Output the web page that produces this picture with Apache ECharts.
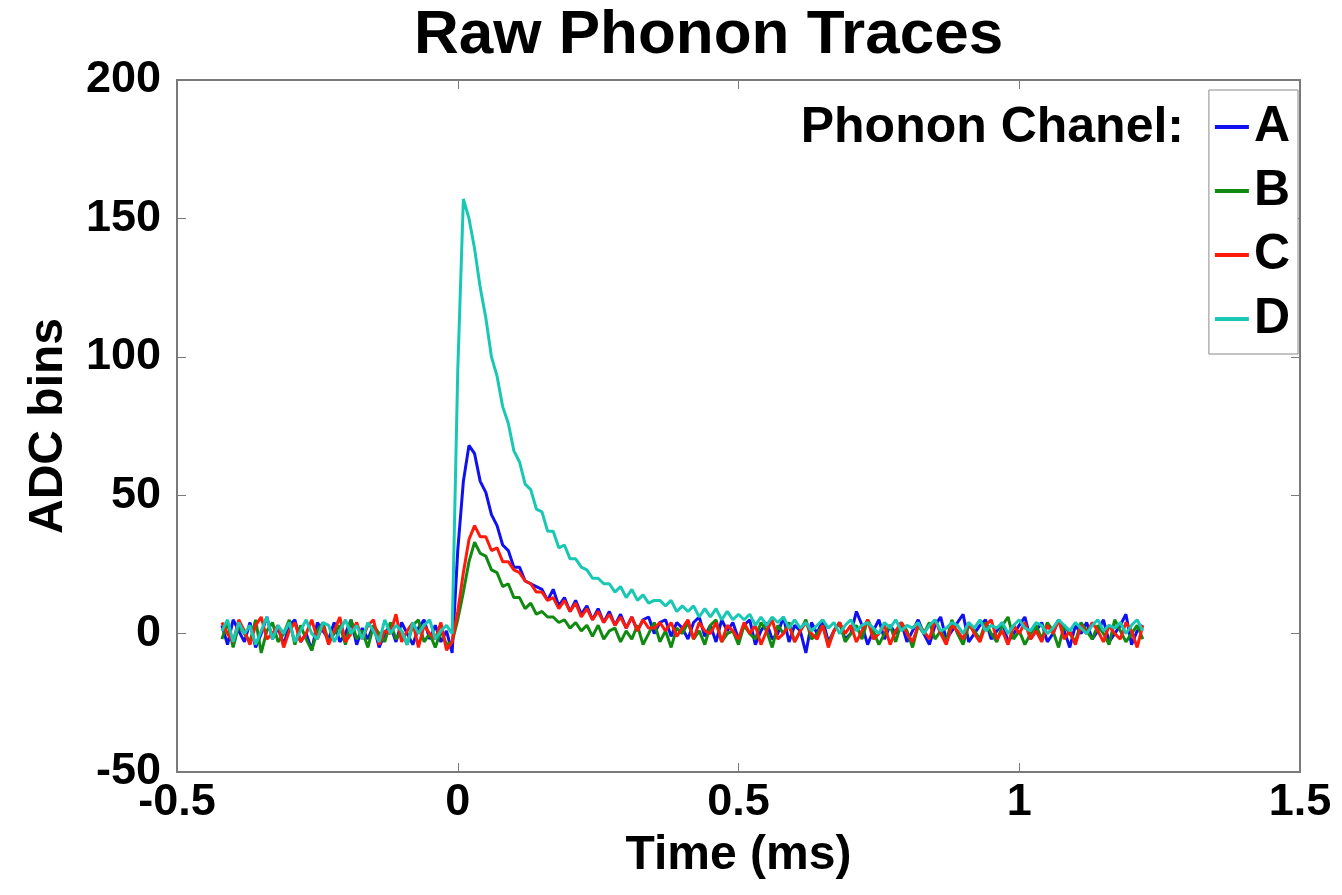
<!DOCTYPE html>
<html>
<head>
<meta charset="utf-8">
<title>Raw Phonon Traces</title>
<script src="https://cdn.jsdelivr.net/npm/echarts@6/dist/echarts.min.js"></script>
<style>
html,body{margin:0;padding:0;background:#fff;}
#phonon_traceID{width:1342px;height:895px;}
</style>
</head>
<body>
<div id="phonon_traceID"></div>
<script>
//原始声子波形 Raw phonon traces
var channelNames=["A", "B", "C", "D"];
var channelColors=["#1010f0", "#118a11", "#ff1a0a", "#18c8b4"];
var xTickValues=[-0.5, 0, 0.5, 1, 1.5];
var yTickValues=[-50, 0, 50, 100, 150, 200];

// sample times (ms)
var timeArray=[
	-0.42,-0.41,-0.40,-0.39,-0.38,-0.37,-0.36,-0.35,-0.34,-0.33,
	-0.32,-0.31,-0.30,-0.29,-0.28,-0.27,-0.26,-0.25,-0.24,-0.23,
	-0.22,-0.21,-0.20,-0.19,-0.18,-0.17,-0.16,-0.15,-0.14,-0.13,
	-0.12,-0.11,-0.10,-0.09,-0.08,-0.07,-0.06,-0.05,-0.04,-0.03,
	-0.02,-0.01,
	0.00,0.01,0.02,0.03,0.04,0.05,0.06,0.07,0.08,0.09,
	0.10,0.11,0.12,0.13,0.14,0.15,0.16,0.17,0.18,0.19,
	0.20,0.21,0.22,0.23,0.24,0.25,0.26,0.27,0.28,0.29,
	0.30,0.31,0.32,0.33,0.34,0.35,0.36,0.37,0.38,0.39,
	0.40,0.41,0.42,0.43,0.44,0.45,0.46,0.47,0.48,0.49,
	0.50,0.51,0.52,0.53,0.54,0.55,0.56,0.57,0.58,0.59,
	0.60,0.61,0.62,0.63,0.64,0.65,0.66,0.67,0.68,0.69,
	0.70,0.71,0.72,0.73,0.74,0.75,0.76,0.77,0.78,0.79,
	0.80,0.81,0.82,0.83,0.84,0.85,0.86,0.87,0.88,0.89,
	0.90,0.91,0.92,0.93,0.94,0.95,0.96,0.97,0.98,0.99,
	1.00,1.01,1.02,1.03,1.04,1.05,1.06,1.07,1.08,1.09,
	1.10,1.11,1.12,1.13,1.14,1.15,1.16,1.17,1.18,1.19,
	1.20,1.21,1.22
];

// ADC bins, channel A
var chanA=[
	3,-4,5,1,-3,4,-5,0,6,-2,
	2,-4,3,5,-3,0,-6,4,1,-2,
	4,-3,0,5,-4,2,-2,3,-5,0,
	3,-3,4,0,-4,2,5,-2,3,-3,
	1,-7,
	30,55,68,65,55,51,43,39,32,30,
	24,24,19,18,17,16,12,16,10,13,
	8,12,7,10,5,9,4,8,3,7,
	2,6,1,5,6,0,4,5,-1,4,
	2,-2,4,6,-1,3,-3,5,1,4,
	-2,3,5,-4,1,4,-2,0,6,-3,
	3,1,-7,4,0,5,-3,1,4,-2,
	0,8,3,-4,1,5,-2,3,0,4,
	-3,1,5,0,-4,3,6,-2,1,4,
	7,-3,0,3,5,-2,1,4,-3,0,
	3,6,-2,1,4,-3,0,5,1,-5,
	3,0,4,-2,1,5,-3,0,3,7,
	-4,1,3
];
// channel B
var chanB=[
	-2,4,-5,3,0,-3,5,-7,1,4,
	-3,0,5,-4,3,-2,-6,1,4,-3,
	0,3,-4,5,-2,1,-5,3,0,-3,
	4,-2,1,-4,3,5,-3,0,-5,1,
	-4,-3,
	5,15,26,33,29,28,23,22,17,18,
	13,13,9,11,7,8,6,6,4,5,
	2,4,1,3,-1,3,-2,1,2,-3,
	1,-2,3,-4,0,4,-3,1,-5,2,
	0,4,-2,1,-4,3,5,-3,0,1,
	-4,3,0,-2,4,1,-5,3,0,4,
	-3,1,5,-2,0,3,-4,1,4,-3,
	0,3,-2,5,1,-4,0,3,-3,4,
	1,-5,3,0,4,-2,1,-3,5,0,
	-4,3,1,-2,4,0,-3,3,6,-2,
	1,-4,0,3,-2,4,1,-5,3,0,
	-3,4,1,-2,3,0,-4,5,1,-3,
	0,3,-2
];
// channel C
var chanC=[
	4,0,-3,5,1,-4,3,6,-2,0,
	3,-5,1,4,-3,0,5,-2,3,-4,
	1,6,-3,0,4,-2,3,5,-4,1,
	0,7,-3,1,4,-5,3,0,-2,4,
	-6,-3,
	8,22,34,39,35,35,30,31,26,26,
	23,22,19,18,15,15,12,13,9,12,
	8,11,6,9,5,8,4,7,3,6,
	2,6,1,5,2,2,4,1,4,-1,
	2,5,-2,4,1,0,4,-3,3,1,
	-2,4,0,3,-4,1,5,-2,0,3,
	-3,1,4,0,-2,3,-5,1,4,0,
	3,-3,1,5,-2,0,3,-4,1,4,
	0,-3,3,1,-2,5,0,-4,3,1,
	-2,4,0,-3,3,5,-2,1,-4,3,
	0,4,-2,1,-3,3,0,5,-2,1,
	-4,3,0,4,1,-3,3,0,-2,4,
	1,-5,3
];
// channel D
var chanD=[
	1,5,-3,4,0,3,-4,1,6,-2,
	3,0,4,-3,1,5,0,-2,4,3,
	-3,1,5,0,3,-2,4,1,-3,5,
	0,3,1,-4,4,0,3,5,-2,1,
	3,0,
	95,157,150,139,125,114,100,93,82,76,
	66,62,54,52,45,44,37,37,31,32,
	27,27,24,23,20,20,18,18,15,17,
	13,16,12,14,11,12,12,10,12,8,
	10,8,10,6,9,6,9,5,8,5,
	7,5,7,3,6,3,6,4,6,2,
	5,2,4,1,3,5,2,4,0,3,
	5,1,3,4,2,0,4,2,5,1,
	3,2,4,0,3,5,1,2,4,3,
	0,4,2,5,1,3,2,4,0,3,
	5,2,1,4,3,0,2,5,3,1,
	4,2,0,3,5,1,3,2,4,0,
	3,5,1
];

var phonon_trace_graphID=null;
var fontFam="'Liberation Sans', Arial, Helvetica, sans-serif";

function pairUp(tArr, vArr){
	var out=[];
	for(var i=0;i<tArr.length;i++){
		out.push([tArr[i], vArr[i]]);
	}
	return out;
}

function showCharts_PhononTrace(){
	var chanData=[chanA, chanB, chanC, chanD];
	var seriesList=[];
	var legendItems=[];
	for(var k=0;k<channelNames.length;k++){
		seriesList.push({
			name: channelNames[k],
			type: 'line',
			showSymbol: false,
			symbol: 'none',
			lineStyle: {
				color: channelColors[k],
				width: 3
			},
			itemStyle: {
				color: channelColors[k]
			},
			z: 2+k,
			data: pairUp(timeArray, chanData[k])
		});
		legendItems.push({ name: channelNames[k], textStyle: { color: '#000000' } });
	}
	var boxLine={ show: true, onZero: false, lineStyle: { color: '#7a7a7a', width: 2 } };
	var tickIn={ show: true, inside: true, length: 9, lineStyle: { color: '#7a7a7a', width: 1 } };

	phonon_trace_graphID = echarts.init(document.getElementById('phonon_traceID'));
	var option = {
		animation: false,
		backgroundColor: '#ffffff',
		textStyle: { fontFamily: fontFam },
		title: [{
			text: 'Raw Phonon Traces',
			left: 414,
			top: 5,
			padding: 0,
			textStyle: { fontSize: 62, fontWeight: 'bold', color: '#000', fontFamily: fontFam }
		}, {
			text: 'Phonon Chanel:',
			right: 158,
			top: 103,
			padding: 0,
			textStyle: { fontSize: 50, fontWeight: 'bold', color: '#000', fontFamily: fontFam }
		}],
		legend: {
			orient: 'vertical',
			right: 44,
			top: 90,
			padding: [12, 8, 10, 6],
			itemGap: 14,
			itemWidth: 34,
			itemHeight: 4,
			icon: 'rect',
			borderColor: '#8a8a8a',
			borderWidth: 1,
			backgroundColor: '#ffffff',
			inactiveColor: '#000000',
			textStyle: { fontSize: 50, fontWeight: 'bold', color: '#000000', lineHeight: 50, fontFamily: fontFam },
			data: legendItems
		},
		grid: {
			left: 177,
			right: 42,
			top: 80,
			bottom: 123,
			containLabel: false
		},
		xAxis: [{
			type: 'value',
			min: xTickValues[0],
			max: xTickValues[xTickValues.length-1],
			interval: 0.5,
			name: 'Time (ms)',
			nameLocation: 'middle',
			nameGap: 60,
			nameTextStyle: { fontSize: 48, fontWeight: 'bold', color: '#000', fontFamily: fontFam },
			axisLine: boxLine,
			axisTick: tickIn,
			splitLine: { show: false },
			axisLabel: { fontSize: 45, fontWeight: 'bold', color: '#000', margin: 8, fontFamily: fontFam }
		}, {
			type: 'value',
			position: 'top',
			min: xTickValues[0],
			max: xTickValues[xTickValues.length-1],
			interval: 0.5,
			axisLine: boxLine,
			axisTick: tickIn,
			splitLine: { show: false },
			axisLabel: { show: false }
		}],
		yAxis: [{
			type: 'value',
			min: yTickValues[0],
			max: yTickValues[yTickValues.length-1],
			interval: 50,
			name: 'ADC bins',
			nameLocation: 'middle',
			nameGap: 104,
			nameTextStyle: { fontSize: 48, fontWeight: 'bold', color: '#000', fontFamily: fontFam },
			axisLine: boxLine,
			axisTick: tickIn,
			splitLine: { show: false },
			axisLabel: { fontSize: 45, fontWeight: 'bold', color: '#000', margin: 16, fontFamily: fontFam }
		}, {
			type: 'value',
			position: 'right',
			min: yTickValues[0],
			max: yTickValues[yTickValues.length-1],
			interval: 50,
			axisLine: boxLine,
			axisTick: tickIn,
			splitLine: { show: false },
			axisLabel: { show: false }
		}],
		series: seriesList
	};
	phonon_trace_graphID.setOption(option);
}
showCharts_PhononTrace();
</script>
</body>
</html>
